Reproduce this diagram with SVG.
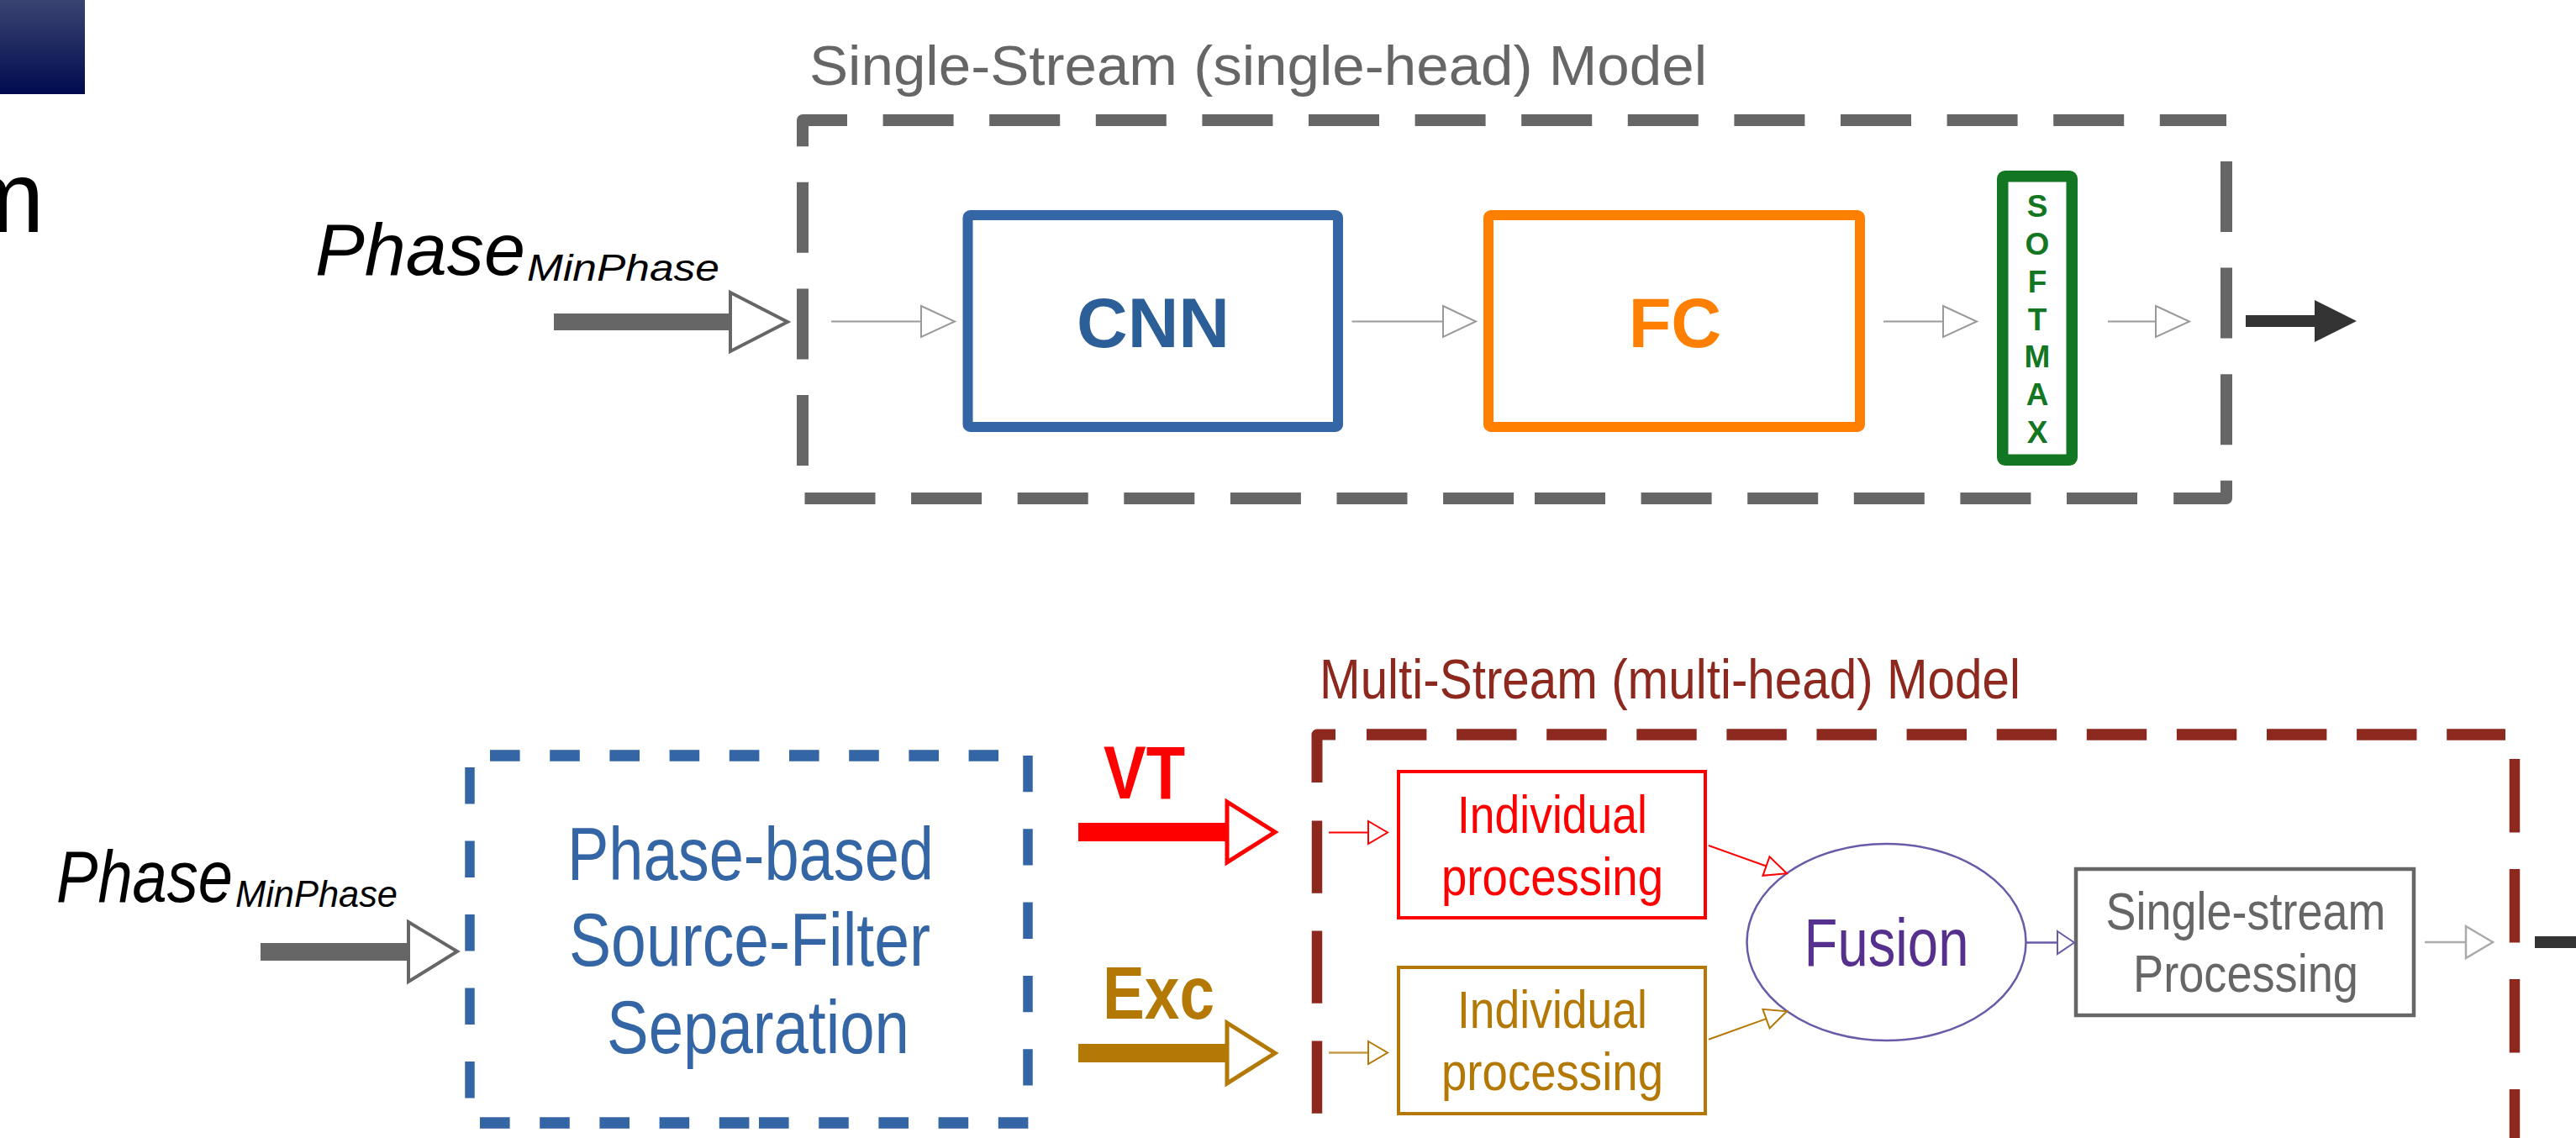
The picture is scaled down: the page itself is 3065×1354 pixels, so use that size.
<svg xmlns="http://www.w3.org/2000/svg" width="3065" height="1354" viewBox="0 0 3065 1354">
<defs>
<linearGradient id="hdr" x1="0" y1="0" x2="0" y2="1">
<stop offset="0" stop-color="#3a4471"/>
<stop offset="1" stop-color="#000b4f"/>
</linearGradient>
<style>
text{font-family:"Liberation Sans",Arial,sans-serif}
.b{font-weight:bold}
.it{font-style:italic}
.mid{text-anchor:middle}
.dash{fill:none;stroke-linecap:butt;stroke-linejoin:round}
.g{stroke:#666}
.bl{stroke:#3465a4}
.dr{stroke:#8d281e}
.thin{fill:none;stroke:#9a9a9a;stroke-width:2}
.thinhead{fill:#fff;stroke:#9a9a9a;stroke-width:2}
.box{fill:#fff}
</style>
</defs>
<rect width="3065" height="1354" fill="#fff"/>

<g id="header">
<rect x="0" y="0" width="101" height="112" fill="url(#hdr)"/>
<text x="-48" y="276" font-size="121" fill="#000">m</text>
</g>

<g id="label-phase-top">
<text class="it" x="375" y="327" font-size="86.6" textLength="250" lengthAdjust="spacingAndGlyphs" fill="#000">Phase</text>
<text class="it" x="627" y="334" font-size="44" textLength="229" lengthAdjust="spacingAndGlyphs" fill="#000">MinPhase</text>
</g>

<g id="single-stream-model">
<text x="963" y="101" font-size="67.5" textLength="1068" lengthAdjust="spacingAndGlyphs" fill="#666">Single-Stream (single-head) Model</text>
<path class="dash g" stroke-width="14" stroke-dasharray="84 42.6" d="M955,174 V143 H2649"/>
<path class="dash g" stroke-width="14" stroke-dasharray="84 42.6" d="M2649,192 V593 H2586"/>
<path class="dash g" stroke-width="14" stroke-dasharray="84 42.6" d="M1826,593 H2543"/>
<path class="dash g" stroke-width="14" stroke-dasharray="84 42.6" d="M957.5,593 H1802"/>
<path class="dash g" stroke-width="14" stroke-dasharray="84 42.6" d="M955,554 V174"/>
</g>

<g id="node-cnn">
<rect class="box" x="1151.5" y="256" width="440.5" height="252" rx="3" stroke="#3465a4" stroke-width="12"/>
<text class="b mid" x="1372" y="413" font-size="84" fill="#2c5f98">CNN</text>
</g>

<g id="node-fc">
<rect class="box" x="1771" y="256" width="442" height="252" rx="3" stroke="#ff8000" stroke-width="12"/>
<text class="b mid" x="1993" y="413" font-size="83" fill="#ff8000">FC</text>
</g>

<g id="node-softmax">
<rect class="box" x="2382.75" y="209.75" width="82.5" height="337.5" rx="3" stroke="#127622" stroke-width="13.5"/>
<g class="b mid" font-size="37" fill="#127622">
<text x="2424" y="258">S</text>
<text x="2424" y="303">O</text>
<text x="2424" y="348">F</text>
<text x="2424" y="393">T</text>
<text x="2424" y="437">M</text>
<text x="2424" y="482">A</text>
<text x="2424" y="527">X</text>
</g>
</g>

<g id="label-phase-bottom">
<text class="it" x="67" y="1073" font-size="88" textLength="210" lengthAdjust="spacingAndGlyphs" fill="#000">Phase</text>
<text class="it" x="280" y="1079" font-size="45" textLength="193" lengthAdjust="spacingAndGlyphs" fill="#000">MinPhase</text>
</g>

<g id="node-separation">
<path class="dash bl" stroke-width="13.5" stroke-dasharray="35.6 35.6" d="M583,899 H1188"/>
<path class="dash bl" stroke-width="11.5" stroke-dasharray="43.3 44" d="M1223,899 V1292"/>
<path class="dash bl" stroke-width="11.5" stroke-dasharray="43.5 44" d="M559,913 V1307"/>
<path class="dash bl" stroke-width="13.5" stroke-dasharray="35.6 35.6" d="M571,1336 H892"/>
<path class="dash bl" stroke-width="13.5" stroke-dasharray="35.6 35.6" d="M903,1336 H1224"/>
<g font-size="89" fill="#3465a4">
<text x="675" y="1047" textLength="436" lengthAdjust="spacingAndGlyphs">Phase-based</text>
<text x="677" y="1149" textLength="430" lengthAdjust="spacingAndGlyphs">Source-Filter</text>
<text x="722" y="1253" textLength="360" lengthAdjust="spacingAndGlyphs">Separation</text>
</g>
</g>

<g id="label-vt">
<text class="b" x="1313" y="950" font-size="89" textLength="97" lengthAdjust="spacingAndGlyphs" fill="#ff0000">VT</text>
</g>
<g id="label-exc">
<text class="b" x="1312" y="1212" font-size="89" textLength="133" lengthAdjust="spacingAndGlyphs" fill="#b47804">Exc</text>
</g>

<g id="multi-stream-model">
<text x="1570" y="831" font-size="67" textLength="834" lengthAdjust="spacingAndGlyphs" fill="#8d281e">Multi-Stream (multi-head) Model</text>
<path class="dash dr" stroke-width="13" d="M1567,931 V874 H1589"/>
<path class="dash dr" stroke-width="13.5" stroke-dasharray="71.4 35.7" d="M1626,874 H2981"/>
<path class="dash dr" stroke-width="12.5" stroke-dasharray="86.3 44.7" d="M1567,976.5 V1354"/>
<path class="dash dr" stroke-width="12.5" stroke-dasharray="87.4 43.6" d="M2992,903 V1354"/>
</g>

<g id="node-indiv-vt">
<rect class="box" x="1664" y="918" width="365" height="174" stroke="#ff0000" stroke-width="4"/>
<g class="mid" font-size="63" fill="#ff0000">
<text x="1847" y="991" textLength="226" lengthAdjust="spacingAndGlyphs">Individual</text>
<text x="1847" y="1065" textLength="264" lengthAdjust="spacingAndGlyphs">processing</text>
</g>
</g>

<g id="node-indiv-exc">
<rect class="box" x="1664" y="1151" width="365" height="174" stroke="#b47804" stroke-width="4"/>
<g class="mid" font-size="63" fill="#b47804">
<text x="1847" y="1223" textLength="226" lengthAdjust="spacingAndGlyphs">Individual</text>
<text x="1847" y="1297" textLength="264" lengthAdjust="spacingAndGlyphs">processing</text>
</g>
</g>

<g id="node-fusion">
<ellipse class="box" cx="2244.5" cy="1121" rx="166" ry="117" stroke="#6a5aa8" stroke-width="2.5"/>
<text class="mid" x="2244.5" y="1149" font-size="79" textLength="196" lengthAdjust="spacingAndGlyphs" fill="#55308d">Fusion</text>
</g>

<g id="node-single-stream">
<rect class="box" x="2470" y="1034" width="402" height="174" stroke="#666" stroke-width="4.5"/>
<g class="mid" font-size="63" fill="#666">
<text x="2672" y="1106" textLength="333" lengthAdjust="spacingAndGlyphs">Single-stream</text>
<text x="2672" y="1179.5" textLength="268" lengthAdjust="spacingAndGlyphs">Processing</text>
</g>
</g>

<g id="connectors">
<!-- top -->
<rect x="659" y="373" width="210" height="20" fill="#666"/>
<polygon points="869,348 937,383 869,418" fill="#fff" stroke="#666" stroke-width="4"/>
<path class="thin" d="M989,382.5 H1096"/>
<polygon class="thinhead" points="1096,364 1136,382.5 1096,401"/>
<path class="thin" d="M1608.5,382.5 H1717"/>
<polygon class="thinhead" points="1717,364 1756,382.5 1717,401"/>
<path class="thin" d="M2241,382.5 H2312"/>
<polygon class="thinhead" points="2312,364 2352,382.5 2312,401"/>
<path class="thin" d="M2508,382.5 H2565"/>
<polygon class="thinhead" points="2565,364 2605,382.5 2565,401"/>
<path d="M2672,375 H2754 V357 L2804,382 L2754,407 V389 H2672 Z" fill="#333"/>
<!-- bottom -->
<rect x="310" y="1122" width="176" height="21" fill="#666"/>
<polygon points="486,1097 544,1132 486,1168" fill="#fff" stroke="#666" stroke-width="4"/>
<rect x="1283" y="979" width="177" height="22" fill="#ff0000"/>
<polygon points="1460,954 1517,990 1460,1026" fill="#fff" stroke="#ff0000" stroke-width="5"/>
<rect x="1283" y="1242" width="177" height="22" fill="#b47804"/>
<polygon points="1460,1217 1517,1253 1460,1289" fill="#fff" stroke="#b47804" stroke-width="5"/>
<path d="M1581,990.5 H1628" fill="none" stroke="#ff0000" stroke-width="2"/>
<polygon points="1628,977 1651,990.5 1628,1004" fill="#fff" stroke="#ff0000" stroke-width="2"/>
<path d="M1581,1252.5 H1628" fill="none" stroke="#c99a45" stroke-width="2.5"/>
<polygon points="1628,1239 1651,1252.5 1628,1266" fill="#fff" stroke="#b47804" stroke-width="2"/>
<path d="M2033,1006 L2101.5,1030.5" fill="none" stroke="#ff0000" stroke-width="2"/>
<polygon points="2097.5,1041.8 2105.5,1019.2 2126,1039.3" fill="#fff" stroke="#ff0000" stroke-width="2"/>
<path d="M2033,1236.7 L2101.5,1212.1" fill="none" stroke="#b47804" stroke-width="2"/>
<polygon points="2105.6,1223.4 2097.4,1200.8 2126,1203.3" fill="#fff" stroke="#b47804" stroke-width="2"/>
<path d="M2411,1121.5 H2448" fill="none" stroke="#6a5aa8" stroke-width="2.5"/>
<polygon points="2448,1108 2468,1121.5 2448,1135" fill="#fff" stroke="#6a5aa8" stroke-width="2"/>
<path d="M2885,1121 H2934" fill="none" stroke="#aaa" stroke-width="2.5"/>
<polygon points="2934,1102 2966,1121 2934,1140" fill="#fff" stroke="#aaa" stroke-width="2.5"/>
<rect x="3016" y="1114" width="49" height="14" fill="#333"/>
</g>
</svg>
